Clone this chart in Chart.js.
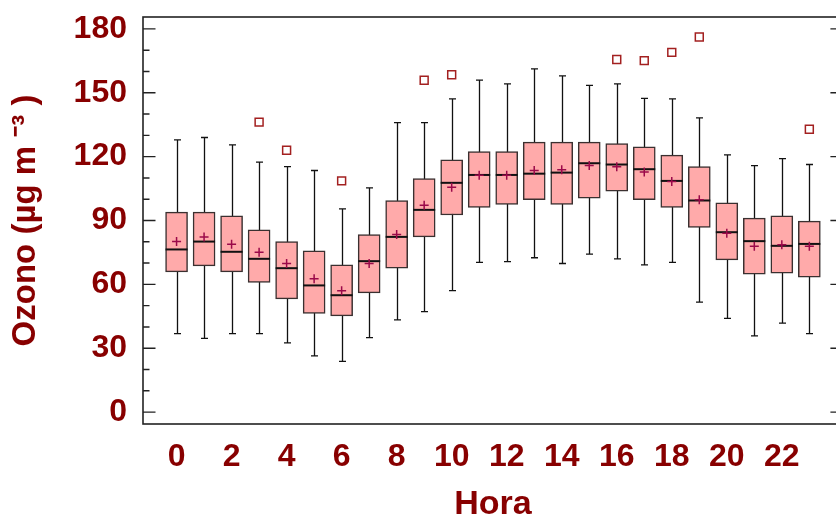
<!DOCTYPE html>
<html>
<head>
<meta charset="utf-8">
<script src="https://cdn.jsdelivr.net/npm/chart.js@4.4.1/dist/chart.umd.min.js"></script>
<style>
  html, body { margin: 0; padding: 0; background: #fff; overflow: hidden; }
  .wrap { width: 850px; height: 520px; }
</style>
</head>
<body>
<div class="wrap"><canvas id="chart" width="850" height="520"></canvas></div>
<script>
// ozono per uur (boxplot)
const hours = [0, 1, 2, 3, 4, 5, 6, 7, 8, 9, 10, 11, 12, 13, 14, 15, 16, 17, 18, 19, 20, 21, 22, 23];
const whiskerLow = [36.9, 34.6, 36.9, 36.9, 32.5, 26.4, 23.8, 35.0, 43.3, 47.2, 57.1, 70.3, 70.7, 72.5, 69.8, 74.2, 72.0, 69.2, 70.3, 51.7, 44.0, 35.8, 41.8, 36.9];
const q1 = [65.9, 68.7, 65.9, 60.9, 53.2, 46.3, 45.2, 56.0, 67.6, 82.3, 92.6, 96.1, 97.6, 99.8, 97.6, 100.5, 103.8, 99.8, 96.1, 86.7, 71.5, 64.8, 65.3, 63.4];
const median = [76.4, 80.1, 75.3, 72.0, 67.6, 59.5, 54.9, 70.9, 82.3, 95.0, 107.7, 111.4, 111.4, 112.0, 112.5, 116.9, 116.3, 114.1, 108.6, 99.4, 84.5, 80.3, 78.1, 79.0];
const q3 = [93.9, 93.9, 92.2, 85.6, 80.1, 75.7, 69.2, 83.4, 99.4, 109.7, 118.5, 122.4, 122.4, 126.8, 126.8, 126.8, 126.1, 124.6, 120.7, 115.3, 98.3, 91.1, 92.2, 89.7];
const whiskerHigh = [127.9, 129.0, 125.5, 117.4, 115.3, 113.5, 95.5, 105.3, 136.0, 136.0, 147.1, 155.9, 154.2, 161.2, 157.9, 153.5, 154.2, 147.4, 147.1, 138.2, 120.8, 115.8, 119.1, 116.3];
const mean = [80.1, 82.3, 78.9, 75.1, 69.8, 62.6, 57.0, 69.8, 83.4, 97.2, 105.6, 111.3, 111.2, 113.5, 113.9, 115.8, 115.2, 112.8, 108.3, 99.8, 84.0, 77.9, 78.6, 77.9];
const outlierHours = [3, 4, 6, 9, 10, 16, 17, 18, 19, 23];
const outlierValues = [136.2, 123.0, 108.6, 155.9, 158.5, 165.6, 165.1, 169.0, 176.2, 132.9];

const xTickValues = [0, 2, 4, 6, 8, 10, 12, 14, 16, 18, 20, 22];
const yTickValues = [0, 10, 20, 30, 40, 50, 60, 70, 80, 90, 100, 110, 120, 130, 140, 150, 160, 170, 180];
const yLabels = [0, 30, 60, 90, 120, 150, 180];

const textColor = '#880000';
const fontFam = "'Liberation Sans', Arial, sans-serif";

const boxParts = {
  id: 'boxParts',
  beforeDatasetsDraw(chart) {
    const ctx = chart.ctx;
    const x = chart.scales.x;
    const y = chart.scales.y;
    ctx.save();
    ctx.strokeStyle = '#111';
    ctx.lineWidth = 1.3;
    for (let i = 0; i < hours.length; i++) {
      const px = Math.round(x.getPixelForValue(hours[i])) + 0.5;
      const lo = y.getPixelForValue(whiskerLow[i]);
      const hi = y.getPixelForValue(whiskerHigh[i]);
      ctx.beginPath();
      ctx.moveTo(px, lo);
      ctx.lineTo(px, hi);
      ctx.moveTo(px - 3.5, lo);
      ctx.lineTo(px + 3.5, lo);
      ctx.moveTo(px - 3.5, hi);
      ctx.lineTo(px + 3.5, hi);
      ctx.stroke();
    }
    ctx.restore();
  },
  afterDatasetDraw(chart, args) {
    if (args.index !== 0) return;
    const ctx = chart.ctx;
    const x = chart.scales.x;
    const y = chart.scales.y;
    ctx.save();
    ctx.strokeStyle = '#111';
    ctx.lineWidth = 2;
    for (let i = 0; i < hours.length; i++) {
      const px = x.getPixelForValue(hours[i]);
      const py = y.getPixelForValue(median[i]);
      ctx.beginPath();
      ctx.moveTo(px - 11, py);
      ctx.lineTo(px + 11, py);
      ctx.stroke();
    }
    ctx.restore();
  },
  afterDraw(chart) {
    const ctx = chart.ctx;
    const a = chart.chartArea;
    const y = chart.scales.y;
    ctx.save();
    ctx.strokeStyle = '#222';
    ctx.lineWidth = 1.6;
    ctx.strokeRect(a.left, a.top, a.right - a.left, a.bottom - a.top);
    ctx.lineWidth = 1.4;
    ctx.beginPath();
    for (const v of yTickValues) {
      const py = y.getPixelForValue(v);
      const len = yLabels.includes(v) ? 12.5 : 6.5;
      ctx.moveTo(a.left, py);
      ctx.lineTo(a.left + len, py);
      ctx.moveTo(a.right, py);
      ctx.lineTo(a.right - len, py);
    }
    ctx.stroke();
    ctx.restore();
  }
};

const config = {
  type: 'bar',
  data: {
    datasets: [
      {
        type: 'bar',
        data: hours.map((h, i) => ({ x: h, y: [q1[i], q3[i]] })),
        backgroundColor: '#ffaaaa',
        borderColor: '#3a3030',
        borderWidth: 1.5,
        borderSkipped: false,
        barThickness: 22,
        order: 3
      },
      {
        type: 'scatter',
        data: hours.map((h, i) => ({ x: h, y: mean[i] })),
        pointStyle: 'cross',
        radius: 4.5,
        borderColor: '#9b0a4a',
        borderWidth: 1.5,
        order: 1
      },
      {
        type: 'scatter',
        data: outlierHours.map((h, i) => ({ x: h, y: outlierValues[i] })),
        pointStyle: 'rect',
        radius: 5.6,
        borderColor: '#a32020',
        backgroundColor: 'rgba(255,255,255,0)',
        borderWidth: 1.5,
        order: 2
      }
    ]
  },
  options: {
    responsive: false,
    animation: false,
    layout: { padding: { top: 17, right: 4, left: 0, bottom: 0 } },
    plugins: { legend: { display: false }, tooltip: { enabled: false } },
    scales: {
      x: {
        type: 'linear',
        offset: false,
        min: -1.22,
        max: 24.22,
        grid: { display: false, drawTicks: false, offset: false },
        border: { display: false },
        afterBuildTicks: s => { s.ticks = xTickValues.map(v => ({ value: v })); },
        afterFit: s => { s.height = 96; s.paddingLeft = 0; s.paddingRight = 0; },
        ticks: {
          autoSkip: false,
          maxRotation: 0,
          padding: 14,
          color: textColor,
          font: { family: fontFam, size: 32, weight: 'bold' }
        },
        title: {
          display: true,
          text: 'Hora',
          color: textColor,
          padding: { top: 0, bottom: -5 },
          font: { family: fontFam, size: 34, weight: 'bold' }
        }
      },
      y: {
        min: -5.6,
        max: 185.6,
        grid: { display: false, drawTicks: false },
        border: { display: false },
        afterBuildTicks: s => { s.ticks = yTickValues.map(v => ({ value: v })); },
        afterFit: s => { s.width = 143; s.paddingTop = 0; s.paddingBottom = 0; },
        ticks: {
          autoSkip: false,
          padding: 16,
          color: textColor,
          font: { family: fontFam, size: 32, weight: 'bold' },
          callback: v => yLabels.includes(v) ? String(v) : ''
        },
        title: {
          display: true,
          text: 'Ozono (µg m ⁻³ )',
          color: textColor,
          padding: { top: 6, bottom: 0 },
          font: { family: fontFam, size: 33, weight: 'bold' }
        }
      }
    }
  },
  plugins: [boxParts]
};

const pop = new Chart(document.getElementById('chart'), config);
</script>
</body>
</html>
